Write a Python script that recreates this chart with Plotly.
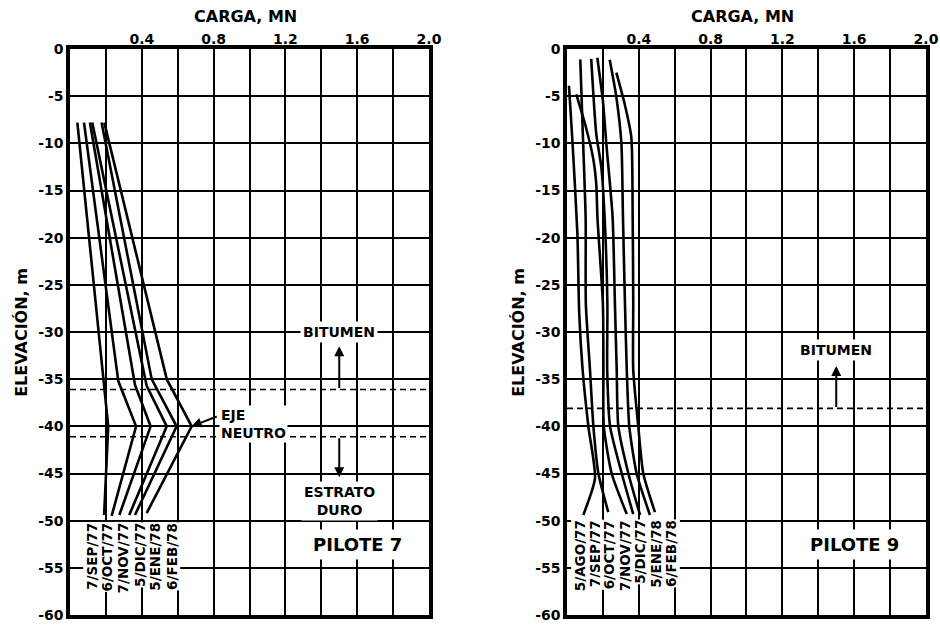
import plotly.graph_objects as go

# ---------------- data ----------------
x_tick_vals = [0, 0.2, 0.4, 0.6, 0.8, 1.0, 1.2, 1.4, 1.6, 1.8, 2.0]
x_tick_text = ["", "", "0.4", "", "0.8", "", "1.2", "", "1.6", "", "2.0"]
y_tick_vals = [0, -5, -10, -15, -20, -25, -30, -35, -40, -45, -50, -55, -60]
y_tick_text = ["0", "-5", "-10", "-15", "-20", "-25", "-30", "-35", "-40", "-45", "-50", "-55", "-60"]

# Pilote 7 : load (MN) vs elevation (m)
p7_names = ["7/SEP/77", "6/OCT/77", "7/NOV/77", "5/DIC/77", "5/ENE/78", "6/FEB/78"]
p7_elev = [
    [-7.8, -35.0, -40.0, -49.4],
    [-7.8, -35.2, -40.0, -49.5],
    [-7.8, -35.6, -40.0, -49.4],
    [-7.8, -35.7, -40.0, -49.4],
    [-7.8, -35.0, -40.0, -49.4],
    [-7.8, -35.0, -40.0, -49.2],
]
p7_load = [
    [0.041, 0.188, 0.213, 0.190],
    [0.078, 0.269, 0.368, 0.232],
    [0.111, 0.362, 0.449, 0.275],
    [0.124, 0.427, 0.539, 0.330],
    [0.176, 0.455, 0.594, 0.362],
    [0.191, 0.539, 0.678, 0.427],
]
p7_bitumen_top = -36.1
p7_bitumen_bottom = -41.1
p7_neutral = (0.678, -40.0)

# Pilote 9
p9_names = ["5/AGO/77", "7/SEP/77", "6/OCT/77", "7/NOV/77", "5/DIC/77", "5/ENE/78", "6/FEB/78"]
p9_elev = [
    [-3.9, -9.7, -19.6, -28.0, -34.0, -40.0, -45.5, -49.4],
    [-1.1, -10.0, -18.0, -27.0, -34.0, -40.0, -45.0, -49.1],
    [-4.8, -7.9, -11.5, -14.3, -18.0, -27.0, -34.0, -40.0, -45.0, -49.3],
    [-1.05, -9.0, -12.5, -18.0, -27.0, -34.0, -40.0, -45.0, -49.3],
    [-0.93, -5.5, -10.0, -17.8, -27.0, -34.0, -40.0, -45.0, -49.4],
    [-1.15, -5.1, -10.0, -18.0, -27.0, -34.0, -40.0, -45.0, -49.4],
    [-2.5, -5.8, -9.3, -18.0, -27.0, -34.0, -40.0, -45.0, -49.1],
]
p9_load = [
    [0.011, 0.030, 0.058, 0.068, 0.087, 0.119, 0.156, 0.091],
    [0.074, 0.090, 0.104, 0.105, 0.128, 0.147, 0.175, 0.230],
    [0.052, 0.100, 0.145, 0.163, 0.170, 0.200, 0.203, 0.205, 0.249, 0.333],
    [0.135, 0.163, 0.191, 0.210, 0.225, 0.224, 0.240, 0.305, 0.369],
    [0.169, 0.200, 0.219, 0.254, 0.267, 0.277, 0.286, 0.342, 0.407],
    [0.238, 0.275, 0.303, 0.312, 0.323, 0.333, 0.347, 0.388, 0.462],
    [0.275, 0.321, 0.358, 0.366, 0.369, 0.369, 0.397, 0.425, 0.490],
]
p9_bitumen = -38.1

# ---------------- label placement (layout only) ----------------
p7_label_x = [0.121, 0.208, 0.297, 0.386, 0.474, 0.567]
p7_label_top = -50.1
p9_label_x = [0.072, 0.156, 0.234, 0.323, 0.407, 0.496, 0.583]
p9_label_top = -49.8

FONT = "DejaVu Sans"
BOLD = dict(family=FONT, weight="bold", color="black")

fig = go.Figure()

for name, e, v in zip(p7_names, p7_elev, p7_load):
    fig.add_trace(go.Scatter(x=v, y=e, mode="lines", name=name,
                             line=dict(color="black", width=2.6),
                             xaxis="x", yaxis="y", showlegend=False))
for name, e, v in zip(p9_names, p9_elev, p9_load):
    fig.add_trace(go.Scatter(x=v, y=e, mode="lines", name=name,
                             line=dict(color="black", width=2.6, shape="spline", smoothing=0.6),
                             xaxis="x2", yaxis="y2", showlegend=False))

xax = dict(range=[0, 2], side="top", tickvals=x_tick_vals, ticktext=x_tick_text,
           showgrid=True, gridcolor="black", gridwidth=2.2, zeroline=False,
           showline=True, linecolor="black", linewidth=3.5, mirror=True, automargin=False,
           ticks="", ticklabelstandoff=-4, tickfont=dict(size=14, **BOLD), fixedrange=True)
yax = dict(range=[-60, 0], tickvals=y_tick_vals, ticktext=y_tick_text,
           showgrid=True, gridcolor="black", gridwidth=2.2, zeroline=False,
           showline=True, linecolor="black", linewidth=3.5, mirror=True, automargin=False,
           ticks="", tickfont=dict(size=14, **BOLD), fixedrange=True)

fig.update_layout(
    width=940, height=625, autosize=False,
    margin=dict(l=70, r=14, t=49, b=10, autoexpand=False),
    paper_bgcolor="white", plot_bgcolor="white",
    xaxis=dict(domain=[0, 0.4194], anchor="y", **xax),
    yaxis=dict(domain=[0, 1], anchor="x", **yax),
    xaxis2=dict(domain=[0.5806, 1], anchor="y2", **xax),
    yaxis2=dict(domain=[0, 1], anchor="x2", **yax),
)

shapes = []
for yv in [p7_bitumen_top, p7_bitumen_bottom]:
    shapes.append(dict(type="line", xref="x", yref="y", x0=0, x1=2, y0=yv, y1=yv,
                       line=dict(color="black", width=1.6, dash="6px,4px")))
shapes.append(dict(type="line", xref="x2", yref="y2", x0=0, x1=2, y0=p9_bitumen, y1=p9_bitumen,
                   line=dict(color="black", width=1.6, dash="6px,4px")))
fig.update_layout(shapes=shapes)

ann = []
# axis titles
for xr, yr in [("x domain", "y domain"), ("x2 domain", "y2 domain")]:
    ann.append(dict(text="CARGA, MN", xref=xr, yref=yr, x=0.488, y=1.058,
                    xanchor="center", yanchor="middle",
                    showarrow=False, font=dict(size=16, **BOLD)))
    ann.append(dict(text="ELEVACIÓN, m", xref=xr, yref=yr, x=-0.137, y=0.5,
                    xanchor="center", yanchor="middle",
                    textangle=-90, showarrow=False, font=dict(size=16, **BOLD)))

# date labels
for name, xv in zip(p7_names, p7_label_x):
    ann.append(dict(text=name, xref="x", yref="y", x=xv, y=p7_label_top, textangle=-90,
                    xanchor="center", yanchor="top", showarrow=False, bgcolor="white",
                    borderpad=0, font=dict(size=13.5, **BOLD)))
for name, xv in zip(p9_names, p9_label_x):
    ann.append(dict(text=name, xref="x2", yref="y2", x=xv, y=p9_label_top, textangle=-90,
                    xanchor="center", yanchor="top", showarrow=False, bgcolor="white",
                    borderpad=0, font=dict(size=13.5, **BOLD)))

ARW = dict(showarrow=True, arrowhead=2, arrowwidth=2, arrowsize=1, arrowcolor="black", text="")
# Pilote 7 notes
ann.append(dict(text="BITUMEN", xref="x", yref="y", x=1.5, y=-30, showarrow=False,
                xanchor="center", yanchor="middle",
                bgcolor="white", borderpad=2, font=dict(size=14, **BOLD)))
ann.append(dict(xref="x", yref="y", x=1.5, y=-31.5, ax=1.5, ay=p7_bitumen_top,
                axref="x", ayref="y", **ARW))
ann.append(dict(xref="x", yref="y", x=1.5, y=-45.4, ax=1.5, ay=p7_bitumen_bottom,
                axref="x", ayref="y", **ARW))
ann.append(dict(text="ESTRATO<br>DURO", xref="x", yref="y", x=1.5, y=-47.96, showarrow=False,
                xanchor="center", yanchor="middle",
                bgcolor="white", borderpad=2, font=dict(size=14, **BOLD)))
ann.append(dict(text="EJE<br>NEUTRO", xref="x", yref="y", x=0.83, y=-39.7, xanchor="left",
                yanchor="middle", align="left", showarrow=False, bgcolor="white", borderpad=1,
                font=dict(size=14, **BOLD)))
ann.append(dict(xref="x", yref="y", x=p7_neutral[0], y=p7_neutral[1], ax=0.826, ay=-38.9,
                axref="x", ayref="y", **ARW))
ann.append(dict(text="PILOTE 7", xref="x", yref="y", x=1.6, y=-52.5, showarrow=False,
                xanchor="center", yanchor="middle",
                bgcolor="white", borderpad=4, font=dict(size=18, **BOLD)))

# Pilote 9 notes
ann.append(dict(text="BITUMEN", xref="x2", yref="y2", x=1.5, y=-31.9, showarrow=False,
                xanchor="center", yanchor="middle",
                bgcolor="white", borderpad=2, font=dict(size=14, **BOLD)))
ann.append(dict(xref="x2", yref="y2", x=1.5, y=-33.6, ax=1.5, ay=p9_bitumen,
                axref="x2", ayref="y2", **ARW))
ann.append(dict(text="PILOTE 9", xref="x2", yref="y2", x=1.604, y=-52.5, showarrow=False,
                xanchor="center", yanchor="middle",
                bgcolor="white", borderpad=4, font=dict(size=18, **BOLD)))

fig.update_layout(annotations=ann)
fig.write_html("out.html")
